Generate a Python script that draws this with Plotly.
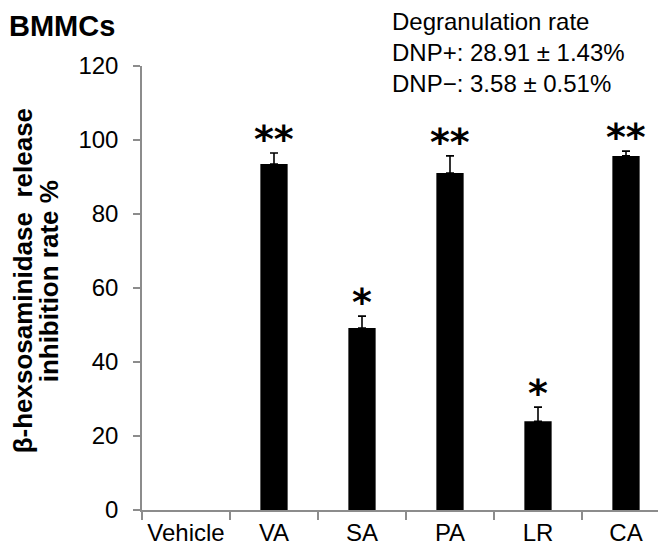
import plotly.graph_objects as go

categories = ["Vehicle", "VA", "SA", "PA", "LR", "CA"]
values = [0, 93.5, 49.2, 91.1, 24.0, 95.7]
errors = [0, 3.0, 3.2, 4.6, 3.8, 1.3]
stars = ["", "**", "*", "**", "*", "**"]
y_ticks = [0, 20, 40, 60, 80, 100, 120]
title_text = "BMMCs"
info_lines = ["Degranulation rate", "DNP+: 28.91 \u00b1 1.43%", "DNP\u2212: 3.58 \u00b1 0.51%"]
ytitle_lines = ["\u03b2-hexsosaminidase  release", "inhibition rate %"]

FONT = "Liberation Sans, Arial, sans-serif"
STARFONT = "DejaVu Sans"
AXC = "#8c8c8c"

bar_y = [v if v > 0 else None for v in values]
bar_err = [e if v > 0 else None for v, e in zip(values, errors)]

fig = go.Figure()
fig.add_trace(go.Bar(
    x=categories, y=bar_y, width=0.31,
    marker=dict(color="black", line=dict(width=0)),
    error_y=dict(type="data", array=bar_err, arrayminus=[0]*len(errors),
                 symmetric=False, color="black", thickness=1.6, width=4, visible=True),
    showlegend=False,
))

for c, v, e, s in zip(categories, values, errors, stars):
    if s:
        fig.add_annotation(x=c, y=v + e, text="<b>%s</b>" % s, showarrow=False,
                           yanchor="middle", yshift=14,
                           font=dict(family=STARFONT, size=38, color="black"))

fig.add_annotation(xref="paper", yref="paper", x=0, y=1, xanchor="left", yanchor="top",
                   text="<b>%s</b>" % title_text, showarrow=False,
                   xshift=-135, yshift=58,
                   font=dict(family=FONT, size=29, color="black"))

fig.add_annotation(xref="paper", yref="paper", x=0.47, y=1, xanchor="left", yanchor="top",
                   text="<br>".join(info_lines), showarrow=False, align="left",
                   yshift=60,
                   font=dict(family=FONT, size=24, color="black"))

for i, line in enumerate(ytitle_lines):
    fig.add_annotation(xref="paper", yref="paper", x=0, y=0.515, xanchor="center", yanchor="middle",
                       text="<b>%s</b>" % line, showarrow=False, textangle=-90,
                       xshift=-119 + 26 * i,
                       font=dict(family=FONT, size=26, color="black"))

fig.update_layout(
    width=666, height=546,
    margin=dict(l=134, r=4, t=58, b=44),
    paper_bgcolor="white", plot_bgcolor="white",
    font=dict(family=FONT, size=24, color="black"),
)
fig.update_xaxes(
    showline=True, linecolor=AXC, linewidth=1.5,
    ticks="outside", tickson="boundaries", ticklen=8, tickcolor=AXC, tickwidth=1.5,
    showgrid=False, tickfont=dict(family=FONT, size=24, color="black"),
)
fig.update_yaxes(
    range=[0, 120], tickvals=y_ticks, showline=True, linecolor=AXC, linewidth=1.5,
    ticks="outside", ticklen=7, tickcolor=AXC, tickwidth=1.5, showgrid=False, zeroline=False,
    tickfont=dict(family=FONT, size=24, color="black"), ticklabelstandoff=10,
)

fig.write_html("out.html")
